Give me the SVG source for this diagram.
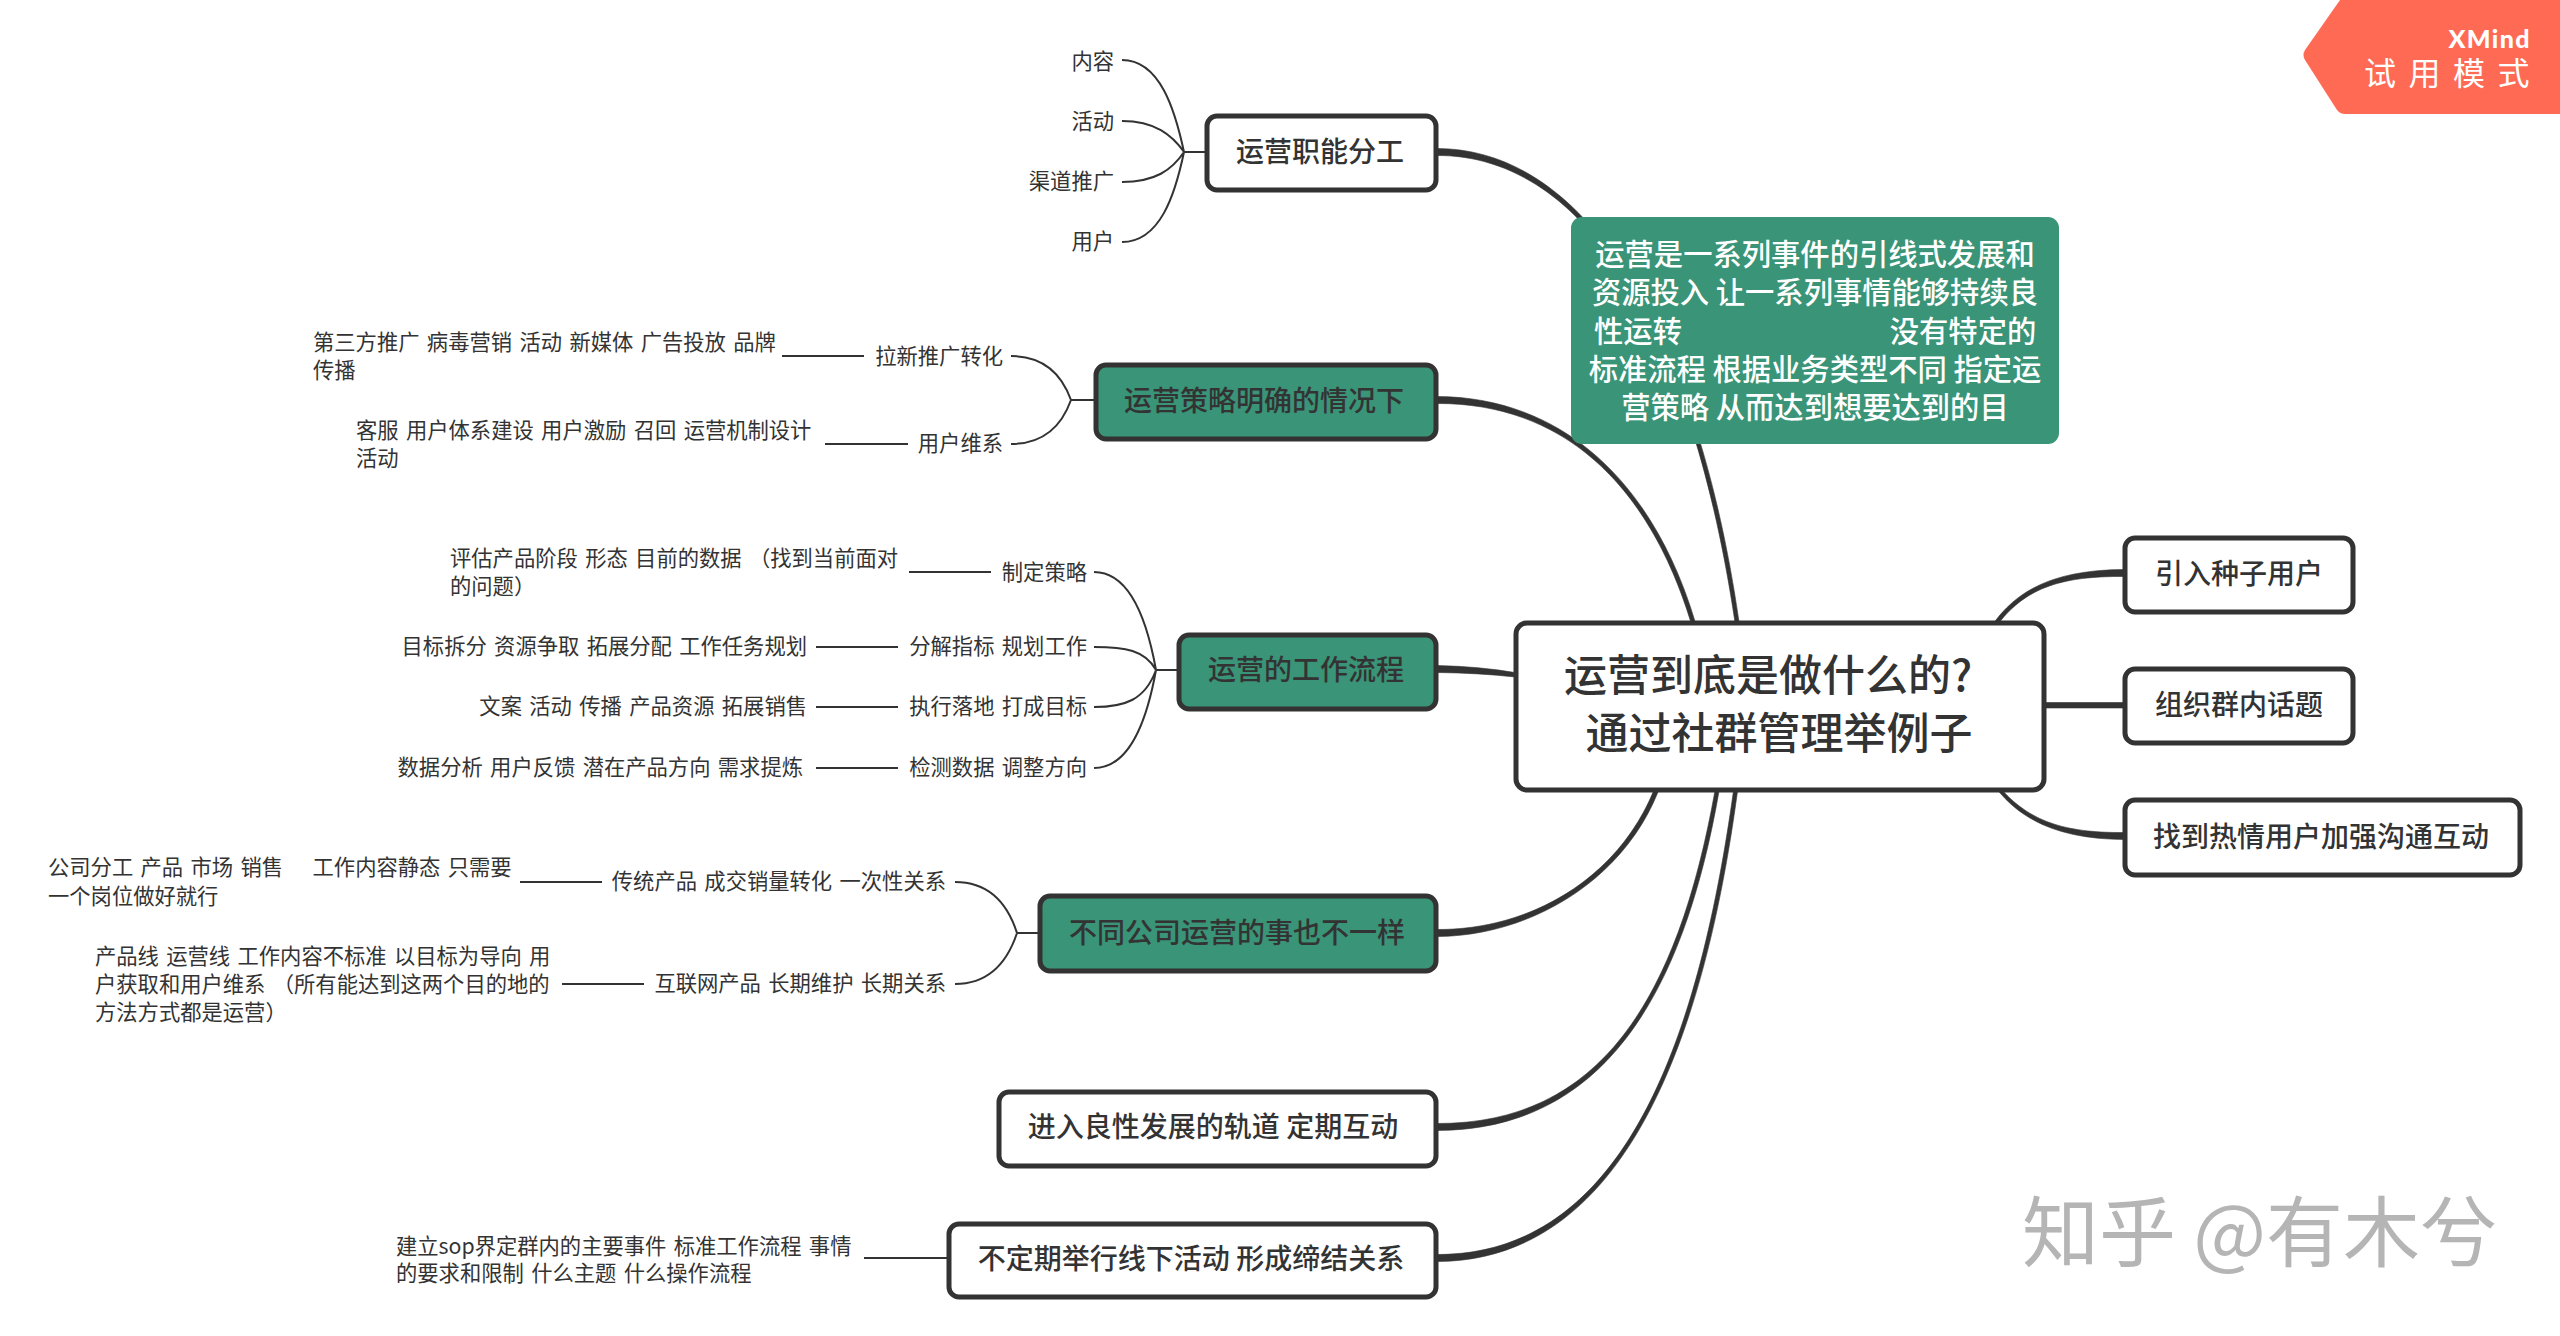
<svg xmlns="http://www.w3.org/2000/svg" width="2560" height="1336" viewBox="0 0 2560 1336">
<style>
text{font-family:"Noto Sans CJK SC","Noto Sans",sans-serif;fill:#333;white-space:pre}
.leaf{font-size:21.3px;word-spacing:2.6px}
.end{text-anchor:end}
.title{font-size:28px;font-weight:500;text-anchor:middle}
.center{font-size:43px;font-weight:500;text-anchor:middle}
.note{font-size:29.3px;fill:#fff;font-weight:500;text-anchor:middle}
.box{stroke:#333;stroke-width:5;fill:#fff}
.green{fill:#3a9477}
.main{fill:#333;stroke:#333;stroke-width:.6;stroke-linejoin:round}
.thin{fill:none;stroke:#333;stroke-width:2}
</style>
<rect width="2560" height="1336" fill="#fff"/>
<g id="connectors">
<path class="main" d="M1437 148.5C1590 149 1698 339.6 1739 621.7L1735 622.3C1693 340.4 1590 155 1437 155.5Z"/>
<path class="main" d="M1437 396.5C1560 397 1652.4 479.3 1695 621.4L1691 622.6C1647.6 480.7 1560 403 1437 403.5Z"/>
<path class="main" d="M1437 665.5Q1480 666.5 1515 672.5V677Q1480 673 1437 672.5Z"/>
<path class="main" d="M1437 929.5C1530 930 1617.7 879 1654 790L1658 792C1622.3 881 1530 936 1437 936.5Z"/>
<path class="main" d="M1437 1123.5C1600 1124 1677.5 999.6 1715 790.7L1719 791.3C1682.5 1000.4 1600 1130 1437 1130.5Z"/>
<path class="main" d="M1437 1254.5C1620 1255 1697.5 1049.7 1733.5 790.7L1737.5 791.3C1702.5 1050.3 1620 1261 1437 1261.5Z"/>
<path class="main" d="M1995.4 620.8C2023 583.8 2065 570 2124 569.5V576.5C2065 576 2027 586.2 1998.6 623.2Z"/>
<path class="main" d="M2045 702.5H2124V708H2045Z"/>
<path class="main" d="M2002 790C2032 823.7 2070 833 2124 832.5V839.5C2070 839 2028 826.3 1999.2 792Z"/>
<path class="thin" d="M1205 152H1184M1122 60C1160 60 1175 110 1184 152M1122 121C1155 121 1172 135 1184 152M1122 182C1155 182 1172 170 1184 152M1122 242C1160 242 1175 195 1184 152"/>
<path class="thin" d="M1094 400H1071M1011 356C1045 356 1062 375 1071 400M1011 444C1045 444 1062 425 1071 400M782 356H864M825 444H908"/>
<path class="thin" d="M1177 670H1156M1094 572C1130 572 1147 620 1156 670M1094 647C1125 647 1145 650 1156 670M1094 707C1125 707 1145 700 1156 670M1094 768C1130 768 1147 720 1156 670M909 572H991M816 647H898M816 707H898M816 768H898"/>
<path class="thin" d="M1038 933H1017M955 882C990 882 1008 905 1017 933M955 984C990 984 1008 960 1017 933M520 882H602M562 984H644"/>
<path class="thin" d="M864 1258H948"/>
</g>
<g id="n-center"><rect class="box" x="1516" y="623" width="528" height="167" rx="11"/>
<text class="center" x="1768" y="691">运营到底是做什么的?</text><text class="center" x="1779" y="749">通过社群管理举例子</text></g>
<g id="n-note"><rect class="green" x="1571" y="217" width="488" height="227" rx="11"/>
<text class="note" x="1815" y="265">运营是一系列事件的引线式发展和</text>
<text class="note" x="1815" y="303">资源投入 让一系列事情能够持续良</text>
<text class="note" x="1638" y="342">性运转</text><text class="note" x="1963" y="342">没有特定的</text>
<text class="note" x="1815" y="380">标准流程 根据业务类型不同 指定运</text>
<text class="note" x="1815" y="418">营策略 从而达到想要达到的目</text></g>
<g id="n-duty"><rect class="box" x="1207" y="116" width="229" height="74" rx="10"/><text class="title" x="1320" y="162">运营职能分工</text></g>
<g id="n-strategy"><rect class="box green" x="1096" y="365" width="340" height="74" rx="10"/><text class="title" x="1264" y="411">运营策略明确的情况下</text></g>
<g id="n-process"><rect class="box green" x="1179" y="635" width="257" height="74" rx="10"/><text class="title" x="1306" y="680">运营的工作流程</text></g>
<g id="n-company"><rect class="box green" x="1040" y="896" width="396" height="75" rx="10"/><text class="title" x="1237" y="943">不同公司运营的事也不一样</text></g>
<g id="n-enter"><rect class="box" x="999" y="1092" width="437" height="74" rx="10"/><text class="title" x="1213" y="1137">进入良性发展的轨道 定期互动</text></g>
<g id="n-offline"><rect class="box" x="949" y="1224" width="487" height="73" rx="10"/><text class="title" x="1191" y="1269">不定期举行线下活动 形成缔结关系</text></g>
<g id="n-seed"><rect class="box" x="2125" y="538" width="228" height="74" rx="10"/><text class="title" x="2239" y="584">引入种子用户</text></g>
<g id="n-topic"><rect class="box" x="2125" y="669" width="228" height="74" rx="10"/><text class="title" x="2239" y="715">组织群内话题</text></g>
<g id="n-hot"><rect class="box" x="2125" y="800" width="395" height="75" rx="10"/><text class="title" x="2321" y="847">找到热情用户加强沟通互动</text></g>
<g id="leaves">
<text class="leaf end" x="1114" y="69">内容</text>
<text class="leaf end" x="1114" y="129">活动</text>
<text class="leaf end" x="1114" y="189">渠道推广</text>
<text class="leaf end" x="1114" y="249">用户</text>
<text class="leaf end" x="1003" y="364">拉新推广转化</text>
<text class="leaf end" x="1003" y="451">用户维系</text>
<text class="leaf" x="313" y="350">第三方推广 病毒营销 活动 新媒体 广告投放 品牌</text>
<text class="leaf" x="313" y="378">传播</text>
<text class="leaf" x="356" y="438">客服 用户体系建设 用户激励 召回 运营机制设计</text>
<text class="leaf" x="356" y="466">活动</text>
<text class="leaf end" x="1087" y="580">制定策略</text>
<text class="leaf end" x="1087" y="654">分解指标 规划工作</text>
<text class="leaf end" x="1087" y="714">执行落地 打成目标</text>
<text class="leaf end" x="1087" y="775">检测数据 调整方向</text>
<text class="leaf" x="450" y="566">评估产品阶段 形态 目前的数据 （找到当前面对</text>
<text class="leaf" x="450" y="594">的问题）</text>
<text class="leaf end" x="807" y="654">目标拆分 资源争取 拓展分配 工作任务规划</text>
<text class="leaf end" x="807" y="714">文案 活动 传播 产品资源 拓展销售</text>
<text class="leaf end" x="803" y="775">数据分析 用户反馈 潜在产品方向 需求提炼</text>
<text class="leaf end" x="946" y="889">传统产品 成交销量转化 一次性关系</text>
<text class="leaf end" x="946" y="991">互联网产品 长期维护 长期关系</text>
<text class="leaf" x="48" y="875">公司分工 产品 市场 销售    工作内容静态 只需要</text>
<text class="leaf" x="48" y="904">一个岗位做好就行</text>
<text class="leaf" x="95" y="964">产品线 运营线 工作内容不标准 以目标为导向 用</text>
<text class="leaf" x="95" y="992">户获取和用户维系 （所有能达到这两个目的地的</text>
<text class="leaf" x="95" y="1020">方法方式都是运营）</text>
<text class="leaf" x="396" y="1254">建立sop界定群内的主要事件 标准工作流程 事情</text>
<text class="leaf" x="396" y="1281">的要求和限制 什么主题 什么操作流程</text>
</g>
<g id="trial">
<path d="M2340 0H2560V114H2345Q2340 114 2337 110L2305 60Q2302 55 2305 50Z" fill="#ff6a55"/>
<text x="2531" y="48" text-anchor="end" style="font-family:'Lato',sans-serif;font-weight:900;font-size:25px;letter-spacing:1.4px;fill:#fff">XMind</text>
<text x="2364" y="85" style="font-size:32px;font-weight:400;letter-spacing:12.5px;fill:#fff">试用模式</text>
</g>
<text id="watermark" x="2022" y="1261" style="font-size:77px;font-weight:400;fill:#b5b5b5">知乎 @有木兮</text>
</svg>
